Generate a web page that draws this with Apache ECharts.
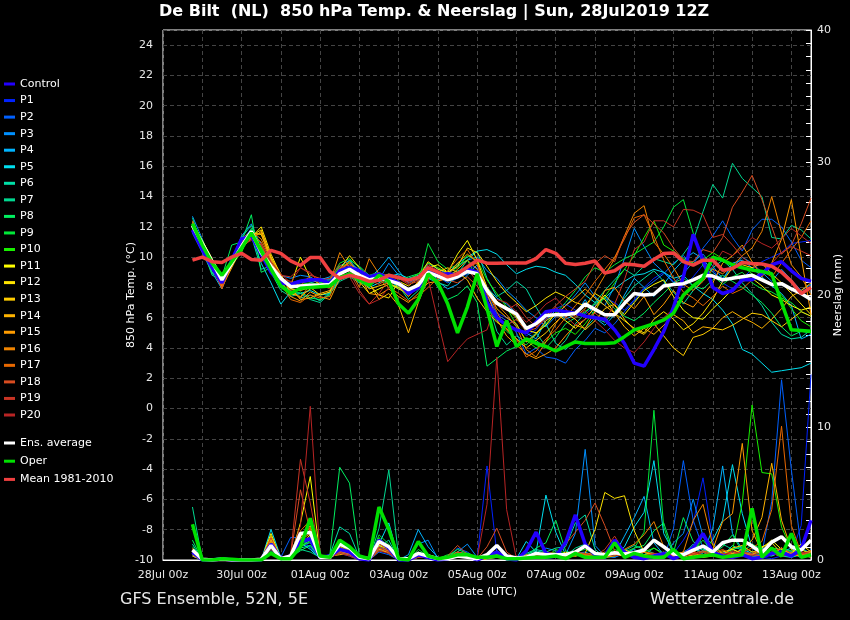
<!DOCTYPE html>
<html>
<head>
<meta charset="utf-8">
<script src="https://cdn.jsdelivr.net/npm/echarts@6/dist/echarts.min.js"></script>
<style>
  html, body { margin: 0; padding: 0; background: #000; }
  #chart { width: 850px; height: 620px; }
</style>
</head>
<body>
<div id="chart"></div>
<script>
// forecast hours since 28Jul 00z (run 28Jul2019 12Z, 6-hourly)
const hours = [18,24,30,36,42,48,54,60, 66,72,78,84,90,96,102,108,
  114,120,126,132,138,144,150,156, 162,168,174,180,186,192,198,204,
  210,216,222,228,234,240,246,252, 258,264,270,276,282,288,294,300,
  306,312,318,324,330,336,342,348, 354,360,366,372,378,384,390,396];

const dayLabels = ['28Jul 00z','30Jul 00z','01Aug 00z','03Aug 00z','05Aug 00z',
  '07Aug 00z','09Aug 00z','11Aug 00z','13Aug 00z'];

const memberNames = ['Control','P1','P2','P3','P4','P5','P6','P7','P8','P9','P10',
  'P11','P12','P13','P14','P15','P16','P17','P18','P19','P20'];
const memberColors = ['#2200ff','#0022ff','#0060ff','#0090ff','#00b4ff','#00e0f0',
  '#00e0a8','#00d890','#00f060','#00e838','#18f000','#ffff00','#ffe400','#ffcc00',
  '#ffb400','#ff9c00','#f08400','#e86800','#d84c20','#c83424','#b82424'];

// 850 hPa temperature (°C)
const tempControl = [11.8,10.5,9.3,8.3,9.8,11.2,11.4,10.2, 9.0,8.3,8.2,8.4,8.5,8.5,8.3,9.1,
  9.3,9.1,8.7,8.9,8.6,8.3,7.6,8.0, 9.0,8.8,8.9,8.8,9.2,9.0,7.0,6.0,
  5.5,5.2,5.0,5.7,6.4,6.5,6.4,6.3, 6.1,6.0,5.9,5.2,4.3,3.0,2.8,3.9,
  5.1,6.7,8.7,11.5,9.8,8.0,7.6,7.8, 8.5,8.5,8.9,9.5,9.7,9.1,8.6,8.4];
const tempP1 = [11.7,10.6,9.4,8.2,9.7,11.0,11.9,10.0, 9.2,8.4,8.3,8.5,8.6,8.4,8.3,9.0,
  9.5,9.0,8.6,8.8,8.5,8.0,7.5,8.0, 9.1,8.9,8.6,9.0,9.4,9.3,7.4,6.3,
  6.0,5.5,4.8,5.2,6.0,6.6,6.9,6.5, 6.2,6.8,7.3,7.0,6.5,7.2,8.0,8.6,
  9.0,8.4,8.0,8.7,9.5,9.2,8.3,7.9, 8.6,9.2,9.7,10.0,10.3,10.9,11.0,11.1];
const tempP2 = [11.9,10.8,9.5,8.0,9.5,10.9,11.6,10.5, 9.3,8.5,8.2,8.3,8.4,8.6,8.5,9.3,
  9.6,9.2,8.4,8.9,8.7,8.3,7.9,8.2, 9.2,8.7,8.3,8.6,8.9,9.0,7.6,6.2,
  5.8,5.0,3.6,4.0,3.4,3.3,3.0,3.9, 4.5,5.3,5.0,5.6,6.4,7.1,7.9,8.4,
  8.9,9.6,10.1,9.5,10.6,11.4,12.4,11.3, 10.4,11.8,12.5,12.5,12.0,11.0,9.8,9.3];
const tempP3 = [12.7,11.2,9.6,8.3,9.8,11.4,12.2,10.6, 9.6,8.8,8.6,8.8,8.7,8.3,8.0,8.7,
  9.4,8.6,8.1,8.5,9.6,8.8,8.3,8.5, 9.6,9.2,8.9,9.4,9.8,10.0,9.1,8.6,
  7.8,7.2,6.5,6.0,5.4,6.1,6.8,7.5, 8.3,7.4,6.8,8.1,9.9,11.9,10.7,9.6,
  9.0,8.3,8.9,9.7,10.2,9.4,8.6,9.3, 10.0,9.6,9.0,8.4,9.2,8.5,7.8,8.2];
const tempP4 = [11.6,10.3,9.0,7.9,9.6,11.1,11.8,10.9, 9.8,8.3,7.6,7.9,8.3,8.5,8.7,9.4,
  9.8,9.0,8.6,9.2,10.0,9.1,8.3,8.6, 9.4,8.4,7.9,8.2,8.8,9.5,8.0,7.3,
  6.9,6.3,5.0,4.6,5.8,6.5,5.9,6.2, 7.2,6.0,5.5,6.2,7.5,8.6,8.0,7.4,
  8.2,9.1,9.8,10.3,9.9,9.0,8.5,9.6, 9.8,9.3,8.7,8.1,7.6,6.8,4.6,4.9];
const tempP5 = [12.3,11.0,9.3,8.6,9.9,11.3,11.5,9.6, 8.3,6.9,7.7,7.6,7.8,7.5,7.6,8.5,
  8.8,8.4,8.0,8.3,8.7,8.9,8.6,8.8, 9.3,9.0,8.9,9.6,10.0,10.4,10.5,10.2,
  9.5,8.9,9.2,9.4,9.3,9.0,8.8,8.2, 7.5,7.0,7.3,7.9,8.4,8.8,8.9,9.2,
  9.0,8.6,8.8,8.1,7.6,7.2,6.5,5.6, 3.9,3.6,3.0,2.4,2.5,2.6,2.7,3.0];
const tempP6 = [12.2,10.5,9.0,8.4,9.9,11.2,11.4,9.2, 9.4,8.2,7.8,7.3,7.5,7.1,7.7,8.6,
  9.0,8.6,8.3,8.7,8.4,8.1,7.2,7.8, 8.6,8.3,8.1,8.9,9.8,10.4,8.6,7.4,
  7.8,8.4,7.9,6.7,5.6,4.3,3.9,4.5, 5.3,6.0,5.7,6.4,7.3,8.1,8.6,9.1,
  8.4,7.7,6.9,7.8,8.5,9.3,9.8,9.2, 8.3,7.6,6.8,5.7,4.9,4.6,4.7,5.2];
const tempP7 = [12.6,10.6,8.8,8.5,9.8,11.3,12.1,10.4, 9.0,7.8,7.4,7.6,7.2,7.0,7.6,8.4,
  8.7,8.3,8.6,8.9,8.2,7.9,7.7,8.2, 8.6,8.5,8.8,9.1,9.3,8.8,7.2,5.1,
  4.2,4.8,4.4,5.0,4.1,3.8,4.5,5.6, 6.3,7.0,7.8,8.5,9.2,8.8,9.4,9.9,
  9.7,9.5,10.2,11.1,13.0,14.8,13.9,16.2, 15.2,14.6,14.0,11.3,11.2,12.1,11.8,11.2];
const tempP8 = [12.0,10.7,8.9,8.7,10.8,11.0,12.8,9.0, 9.3,8.0,7.5,7.7,7.3,7.2,7.5,8.9,
  9.8,9.4,8.8,8.6,8.9,8.5,8.7,8.9, 9.1,8.0,7.2,7.5,8.1,7.0,2.8,3.3,
  3.8,4.1,4.6,4.5,4.0,4.7,5.6,6.0, 6.4,6.9,7.3,6.6,6.1,5.8,6.3,7.0,
  7.6,8.3,8.6,8.1,7.9,8.5,8.8,8.4, 8.0,7.5,7.0,6.3,5.4,4.8,5.1,5.0];
const tempP9 = [12.1,11.0,9.8,8.6,9.4,10.4,11.5,10.6, 9.4,8.7,8.2,8.0,8.1,8.3,8.5,9.6,
  9.9,9.3,8.7,8.4,8.3,8.0,7.4,8.3, 10.9,9.7,9.2,9.5,9.8,8.6,6.6,5.8,
  5.1,4.6,4.2,4.9,5.6,6.3,7.0,7.8, 8.7,9.3,9.0,9.5,9.9,10.2,10.6,11.0,
  12.0,13.3,13.8,11.6,9.4,8.8,8.2,8.7, 9.0,8.3,7.9,7.7,7.3,7.0,6.4,6.1];
const tempP10 = [12.3,11.1,9.9,8.8,9.5,10.3,11.9,10.7, 9.5,8.5,7.9,8.2,8.3,8.2,8.4,9.4,
  9.6,9.0,8.8,9.0,8.6,8.7,8.5,8.9, 9.6,9.3,9.0,9.3,10.1,9.8,8.5,7.6,
  6.7,5.5,4.5,4.0,4.4,5.0,5.3,4.9, 5.6,6.5,7.4,8.3,9.2,10.1,11.3,12.4,
  10.8,10.4,9.9,9.6,9.8,10.3,9.9,9.5, 9.4,8.9,8.6,8.2,7.5,6.6,5.8,5.4];
const tempP11 = [11.9,10.8,9.6,8.1,9.7,11.1,11.6,11.5, 9.9,8.4,8.1,10.0,8.6,8.2,8.4,9.0,
  9.4,8.4,7.6,7.9,8.2,8.0,7.6,8.4, 9.3,9.5,9.0,10.2,11.1,9.8,8.0,7.1,
  6.6,6.0,5.2,5.0,5.5,6.3,5.8,5.3, 5.9,6.7,7.5,6.8,6.2,7.0,7.8,8.2,
  8.5,7.4,6.5,6.0,5.9,6.6,7.2,7.9, 8.4,8.6,8.1,7.5,7.2,6.8,6.5,6.7];
const tempP12 = [12.0,10.9,9.7,8.2,9.6,10.9,11.3,12.0, 10.2,8.8,7.9,7.8,8.0,7.5,7.7,9.2,
  10.1,9.3,8.2,7.5,7.3,8.4,8.1,8.6, 9.7,9.2,9.0,9.4,10.6,10.3,9.4,8.4,
  7.6,7.0,6.4,6.8,7.3,7.7,7.4,7.0, 6.8,7.6,7.2,6.3,5.8,5.3,5.0,5.9,
  6.4,5.9,5.2,5.6,6.3,7.2,8.4,9.3, 9.5,9.3,9.6,8.9,8.3,7.6,6.9,6.2];
const tempP13 = [12.2,11.1,9.9,8.3,9.5,10.8,11.4,11.8, 10.0,8.9,7.6,7.4,7.9,8.1,8.0,8.8,
  9.3,8.7,7.9,8.1,8.3,7.9,7.6,7.9, 8.8,9.0,9.3,9.0,8.5,7.3,6.4,5.7,
  5.3,4.6,4.0,4.5,5.0,5.7,6.3,5.9, 5.2,5.8,6.6,6.9,5.9,5.2,4.9,5.6,
  4.8,4.0,3.5,4.7,4.9,5.3,5.2,5.5, 5.9,6.3,6.2,5.8,5.4,5.9,6.4,6.1];
const tempP14 = [12.1,10.7,9.4,8.0,9.3,10.6,11.2,11.7, 10.0,8.7,8.0,7.2,7.3,7.6,7.8,9.1,
  9.7,8.9,8.3,7.2,7.6,6.8,5.0,7.0, 8.6,8.9,8.6,9.2,9.8,9.2,7.9,6.6,
  6.0,5.6,4.4,4.9,5.8,6.2,6.8,7.3, 7.9,7.3,6.8,6.3,5.4,4.8,5.3,4.9,
  5.5,6.2,5.8,5.0,5.4,5.3,6.0,6.4, 6.0,5.7,5.3,5.9,6.6,7.4,7.8,8.3];
const tempP15 = [12.2,10.9,9.5,8.1,9.4,10.8,11.3,11.6, 9.7,8.5,7.4,7.1,7.7,7.4,7.2,8.6,
  9.4,8.8,7.6,7.5,7.9,7.4,7.0,7.6, 8.3,8.4,8.8,9.6,10.2,9.7,7.6,5.9,
  4.8,4.2,3.6,3.3,3.6,4.0,4.8,5.5, 5.3,6.4,7.8,8.0,7.1,6.6,7.4,6.2,
  6.9,7.8,7.0,6.7,7.5,8.3,9.6,10.1, 10.8,9.7,8.7,9.6,11.2,13.8,10.0,6.2];
const tempP16 = [12.4,11.0,9.6,8.2,9.8,11.2,11.7,11.2, 9.8,8.6,7.8,7.3,8.2,8.0,8.3,10.3,
  9.3,8.0,9.9,8.9,8.8,8.1,7.4,8.1, 8.7,8.4,8.6,8.9,9.4,9.6,7.9,6.9,
  6.2,5.4,3.9,3.4,4.4,5.6,6.5,6.1, 6.6,7.7,8.8,9.9,11.4,12.9,13.4,11.0,
  10.2,9.3,8.2,7.8,8.4,9.2,8.9,9.4, 10.1,10.6,11.7,14.0,11.6,9.5,8.7,7.5];
const tempP17 = [12.3,10.8,9.5,7.9,9.5,11.0,11.5,11.0, 9.6,8.3,7.2,7.0,7.5,7.3,7.4,9.2,
  9.7,8.7,8.3,8.5,8.0,7.6,7.1,7.4, 8.0,8.6,9.1,9.9,10.5,9.5,7.8,6.4,
  5.2,4.6,3.4,3.8,4.6,5.2,6.0,6.8, 7.5,8.4,9.2,10.0,11.2,12.6,12.8,11.4,
  9.8,8.6,7.7,7.3,6.8,7.4,8.1,7.6, 7.9,8.5,9.1,8.7,9.6,10.5,11.3,12.4];
const tempP18 = [12.1,10.6,9.2,8.0,9.6,11.1,11.4,10.8, 9.5,8.6,8.4,8.1,8.8,8.6,8.2,9.3,
  9.5,9.1,8.5,8.2,8.6,8.4,7.8,8.3, 9.2,8.8,8.5,8.3,8.7,8.1,6.9,5.9,
  5.5,5.9,5.1,5.3,6.1,6.8,7.4,7.9, 8.4,9.6,10.1,9.7,11.4,12.3,12.8,12.2,
  11.6,10.6,9.8,9.7,10.5,10.3,11.3,13.3, 14.3,15.4,13.8,12.0,10.2,10.8,12.2,13.9];
const tempP19 = [11.8,10.4,9.2,8.2,9.8,11.0,11.2,10.5, 9.1,8.8,8.7,9.3,8.9,8.5,8.6,9.5,
  9.0,7.8,6.9,7.6,8.5,8.6,8.2,8.4, 9.5,9.1,8.8,9.0,9.2,8.4,7.5,7.0,
  6.5,6.9,6.0,5.4,5.9,6.7,6.1,5.5, 5.9,6.3,5.8,6.9,8.5,10.5,11.0,12.4,
  12.4,12.0,13.15,13.1,12.8,11.3,11.5,10.8, 10.0,9.5,9.0,9.6,10.3,10.7,10.4,10.1];
const tempP20 = [12.0,10.7,9.5,8.4,9.7,10.8,11.1,10.9, 9.7,8.9,8.3,9.3,9.0,8.2,7.9,8.9,
  8.7,7.6,6.9,7.2,8.0,8.6,8.3,8.5, 8.6,5.8,3.1,3.9,4.6,4.9,5.2,7.2,
  7.0,6.4,5.7,6.2,6.9,7.3,6.6,6.0, 6.5,5.8,5.2,4.5,4.0,3.7,4.4,5.3,
  6.0,6.6,7.3,8.1,8.7,9.4,10.4,10.1, 10.6,11.3,10.9,10.6,11.2,11.9,11.4,10.9];
const tempEnsAvg = [12.1,10.9,9.7,8.5,9.6,10.7,11.7,10.3, 9.4,8.6,8.05,8.1,8.15,8.15,8.2,8.9,
  9.2,8.8,8.5,8.65,8.45,8.25,7.85,8.15, 9.0,8.75,8.5,8.7,9.05,8.9,7.8,6.95,
  6.6,6.25,5.3,5.6,6.15,6.2,6.2,6.3, 6.9,6.55,6.2,6.2,6.95,7.6,7.5,7.55,
  8.1,8.2,8.25,8.5,8.8,8.75,8.5,8.6, 8.7,8.8,8.5,8.2,8.25,7.9,7.6,7.2];
const tempOper = [12.2,10.8,9.6,8.8,9.7,10.6,11.6,10.4, 9.2,8.1,7.6,7.95,8.0,8.05,8.1,8.65,
  8.9,8.5,8.15,8.8,8.4,6.9,6.3,7.2, 8.9,8.3,6.9,5.0,6.7,8.9,6.6,4.1,
  5.8,4.1,4.6,4.3,4.1,3.8,4.1,4.4, 4.3,4.3,4.3,4.35,4.75,5.2,5.4,5.6,
  5.85,6.3,7.5,8.1,8.6,10.0,9.8,9.5, 9.3,9.15,9.05,8.9,7.0,5.2,5.15,5.1];
const tempMean = [9.8,10.0,9.7,9.65,10.0,10.25,9.85,9.8, 10.45,10.25,9.75,9.45,9.97,9.97,9.05,8.6,
  8.8,8.65,8.4,8.48,8.8,8.66,8.48,8.66, 9.3,9.0,8.7,8.9,9.35,9.8,9.6,9.6,
  9.62,9.62,9.62,9.9,10.5,10.25,9.6,9.52, 9.6,9.74,8.95,9.1,9.55,9.5,9.4,9.85,
  10.24,10.28,9.7,9.47,9.8,9.8,9.14,9.25, 9.65,9.58,9.55,9.4,9.0,8.4,7.6,8.0];

// 6-hourly precipitation (mm)
const rainControl = [0.6,0,0,0.1,0,0,0,0, 1.2,0.1,0.3,1.4,1.6,0.2,0.3,0.8,
  0.6,0.1,0,1.5,0.9,0,0,0.4, 0.2,0,0.1,0.4,0.3,0,0.3,0.6,
  0.1,0,0.7,2.1,0.5,0.3,1.3,3.4, 1.2,0.4,0.3,1.5,0.6,0.2,0.1,0.3,
  0.5,0.1,0.4,0.9,2.0,0.6,0.3,0.2, 0.4,0.1,0.2,0.5,0.6,0.3,0.8,3.0];
const rainP1 = [0.5,0,0,0,0,0,0,0, 0.8,0,0.2,1.2,1.0,0.1,0.2,0.6,
  0.4,0,0,0.8,0.5,0,0,0.3, 0.1,0,0.2,0.5,0.3,0.1,7.1,0.5,
  0.1,0,0.2,0.3,0.1,0.2,0.4,0.6, 0.3,0.2,0.1,0.5,0.4,0.3,0.2,0.4,
  0.2,0.5,1.5,2.8,6.2,1.4,0.3,0.5, 0.7,0.4,0.2,0.1,0.3,0.5,2.6,14.0];
const rainP2 = [0.4,0,0,0.1,0,0,0,0, 0.6,0.2,1.7,1.7,0.9,0.2,0.3,0.5,
  0.3,0,0,0.6,0.4,0,0,0.2, 0.3,0.1,0.1,0.9,0.6,0.1,0.2,0.3,
  0.1,0,0.3,0.1,0.5,0.2,0.1,0.4, 0.2,0.1,0.3,0.2,0.6,0.4,0.3,0.2,
  0.1,2.4,7.5,3.0,0.9,0.4,0.2,0.6, 0.3,0.2,0.5,4.4,13.6,6.8,0.9,0.5];
const rainP3 = [0.3,0,0,0,0,0,0,0, 0.9,0.1,0.2,1.1,1.3,0.1,0.2,0.7,
  0.5,0.1,0,0.9,0.7,0,0,1.2, 1.5,0.1,0.1,0.6,1.2,0.2,0.3,0.6,
  0.1,0.1,0.2,0.5,0.9,0.7,0.4,2.0, 8.35,1.1,0.3,0.2,0.5,0.8,0.4,0.3,
  0.2,1.3,2.0,4.6,1.8,0.3,0.5,0.8, 1.0,0.4,0.2,0.4,0.9,0.6,0.2,0.8];
const rainP4 = [0.5,0,0,0,0,0,0,0, 1.4,0.1,0.1,1.0,1.5,0.2,0.3,0.9,
  0.7,0.2,0,1.1,0.6,0,0.4,2.3, 1.0,0.2,0.1,0.3,0.2,0,0.1,0.4,
  0.2,0,0.3,0.6,0.2,0.4,0.3,0.5, 0.6,0.3,0.2,0.4,1.8,3.2,4.8,1.3,
  0.4,0.3,0.6,1.0,0.5,2.4,7.1,2.0, 0.8,0.5,0.3,0.6,0.4,0.2,0.5,0.3];
const rainP5 = [0.7,0,0,0,0,0,0,0, 2.3,0.2,0.1,1.3,0.8,0.1,0.2,0.6,
  0.4,0.1,0,1.2,2.8,0.1,0,0.6, 0.3,0.1,0.2,0.4,0.5,0,0.2,0.7,
  0.2,0.1,1.4,0.6,4.9,2.1,0.4,0.6, 0.3,0.2,0.4,0.3,1.0,2.5,3.6,7.5,
  2.0,0.6,0.4,1.2,0.7,1.5,3.0,7.2, 3.5,0.9,0.4,0.3,0.6,0.9,0.4,0.2];
const rainP6 = [1.2,0,0,0,0,0,0,0, 1.5,0.1,0.2,0.9,1.1,0.2,0.4,2.5,
  2.0,0.2,0,1.0,1.5,0,0,0.5, 0.3,0,0.1,0.6,0.4,0.1,0.2,0.3,
  0.1,0,0.5,0.8,0.6,0.9,1.0,2.8, 3.4,0.8,0.2,0.3,0.5,0.6,0.4,0.9,
  0.5,0.3,0.2,0.8,0.6,0.4,0.3,1.1, 0.7,0.4,0.9,0.5,0.3,0.2,0.4,0.6];
const rainP7 = [4.0,0,0,0,0,0,0,0, 0.9,0.1,0.1,0.8,0.6,0.2,0.3,1.2,
  0.8,0.1,0,2.4,6.8,0.2,0,0.4, 0.2,0,0.1,0.3,0.2,0,0.1,0.2,
  0.3,0.1,0.4,0.7,0.5,0.6,0.3,0.9, 1.2,0.6,0.3,0.4,0.7,1.1,0.8,0.5,
  0.3,0.2,0.6,0.9,0.4,0.7,1.2,0.8, 0.5,0.3,0.2,0.4,0.7,0.5,0.2,0.4];
const rainP8 = [1.5,0,0,0,0,0,0,0, 1.3,0.1,0.2,0.7,1.1,0.1,0.4,7.0,
  5.8,0.3,0,1.6,1.1,0.1,0,0.5, 0.4,0.1,0.3,0.8,0.5,0.2,0.4,0.5,
  0.2,0.1,0.3,0.9,1.3,3.0,0.7,0.4, 0.5,0.3,0.2,0.6,0.4,0.9,1.1,2.2,
  2.8,0.6,3.2,1.4,0.8,0.5,1.0,1.9, 0.6,1.2,0.8,0.5,0.3,0.6,0.9,0.4];
const rainP9 = [1.0,0,0,0.1,0,0,0,0, 0.7,0.1,0.3,0.9,1.8,0.2,0.3,1.4,
  0.9,0.2,0,1.9,1.2,0,0,0.8, 0.3,0.1,0.4,0.6,0.5,0.1,0.2,0.4,
  0.1,0,0.2,0.4,0.6,0.5,0.3,0.6, 0.8,0.4,0.2,0.3,0.6,0.9,2.1,11.3,
  2.5,0.3,0.5,0.7,1.5,0.6,0.4,0.8, 1.0,0.6,0.4,0.9,0.8,0.7,0.3,0.5];
const rainP10 = [0.8,0,0,0,0,0,0,0, 0.9,0.2,0.1,1.0,1.4,0.2,0.2,1.1,
  0.7,0.1,0,1.7,0.9,0,0,0.6, 0.2,0.1,0.2,0.5,0.4,0.1,0.3,0.5,
  0.2,0.1,0.3,0.4,0.2,0.8,0.5,0.3, 0.4,0.2,0.3,0.8,0.5,0.4,0.6,0.9,
  0.4,0.3,0.5,0.6,1.8,1.2,0.4,0.7, 4.3,11.7,6.6,6.5,2.5,0.8,0.4,0.3];
const rainP11 = [0.6,0,0,0,0,0,0,0, 2.0,0.1,0.2,2.8,6.3,0.3,0.3,0.7,
  0.5,0.1,0,1.1,0.8,0,0,0.3, 0.2,0,0.1,0.3,0.4,0,0.2,0.3,
  0.1,0,0.2,0.3,0.6,0.4,0.2,0.5, 0.3,0.2,0.4,0.6,0.3,0.5,0.2,0.4,
  0.6,0.3,0.5,0.4,0.2,0.3,0.6,0.8, 0.5,0.4,0.9,1.5,0.8,0.5,1.2,0.6];
const rainP12 = [0.5,0,0,0,0,0,0,0, 1.8,0.1,0.1,1.6,2.6,0.2,0.2,0.5,
  0.6,0,0,0.9,0.5,0,0,0.4, 0.3,0.1,0.1,0.4,0.2,0,0.1,0.4,
  0.1,0,0.2,0.4,0.3,0.2,0.6,0.3, 0.5,2.3,5.1,4.65,4.85,2.2,0.6,0.4,
  0.3,0.2,0.5,0.3,0.4,0.6,0.3,0.5, 0.6,0.4,1.0,1.3,0.5,0.3,0.8,0.4];
const rainP13 = [0.4,0,0,0,0,0,0,0, 1.5,0.1,0.2,1.2,1.9,0.2,0.3,0.4,
  0.5,0,0,0.7,0.6,0,0,0.2, 0.2,0,0.1,0.5,0.3,0,0.1,0.2,
  0.1,0,0.3,0.2,0.4,0.3,0.2,0.6, 0.4,0.3,0.2,0.5,0.8,0.4,0.6,0.3,
  0.5,0.2,0.4,0.7,0.3,0.5,0.4,0.9, 1.1,0.6,0.8,0.4,0.9,0.3,0.5,0.7];
const rainP14 = [0.3,0,0,0,0,0,0,0, 1.6,0.1,0.1,1.8,2.2,0.2,0.2,0.6,
  0.4,0.1,0,0.8,0.7,0,0,0.3, 0.2,0,0.1,0.4,0.3,0,0.2,0.3,
  0.1,0,0.4,0.3,0.5,0.2,0.3,0.4, 0.3,0.2,0.5,0.4,0.3,0.6,0.4,0.5,
  0.3,0.4,0.6,0.5,0.3,0.4,0.7,0.5, 0.8,1.5,3.2,7.3,3.0,0.8,0.4,0.6];
const rainP15 = [0.6,0,0,0,0,0,0,0, 1.2,0.1,0.2,1.5,2.0,0.3,0.2,0.9,
  0.6,0.1,0,1.3,0.9,0,0,0.4, 0.3,0.1,0.2,0.6,0.4,0.1,0.2,0.3,
  0.2,0.1,0.3,0.4,0.2,0.3,0.4,0.5, 0.3,0.4,0.2,0.3,0.6,0.5,0.3,0.4,
  0.5,0.3,0.2,0.4,0.6,0.8,2.9,3.5, 8.8,2.2,0.6,0.5,0.9,0.4,0.3,0.5];
const rainP16 = [0.7,0,0,0,0,0,0,0, 1.4,0.2,0.1,1.9,2.4,0.2,0.3,1.0,
  0.7,0.1,0,1.4,1.0,0,0,0.3, 0.2,0,0.1,0.5,0.3,0,0.1,0.4,
  0.1,0,0.2,0.5,0.3,0.4,0.2,0.3, 0.5,0.3,0.6,0.4,0.8,1.2,1.9,2.9,
  1.0,0.4,0.6,3.0,4.2,1.1,0.5,0.3, 0.6,0.4,0.7,0.5,0.3,0.6,0.4,0.2];
const rainP17 = [0.9,0,0,0,0,0,0,0, 1.1,0.1,0.2,2.2,3.0,0.2,0.3,0.8,
  0.5,0.1,0,1.2,0.8,0,0,0.3, 0.3,0,0.2,0.4,0.2,0.1,0.3,0.5,
  0.2,0.1,0.3,0.2,0.4,0.3,0.2,0.5, 0.4,0.6,0.3,0.5,0.7,0.4,0.6,0.5,
  0.3,0.5,0.4,0.6,0.3,0.5,0.8,0.4, 0.6,0.9,1.4,3.8,10.1,2.6,0.5,0.3];
const rainP18 = [0.8,0,0,0,0,0,0,0, 1.7,0.1,0.3,5.3,2.1,0.2,0.3,0.7,
  0.6,0.1,0,1.0,0.7,0,0,0.4, 0.3,0.1,0.3,1.1,0.4,0.1,1.0,2.4,
  0.6,0.1,0.3,0.4,0.6,0.5,1.2,2.1, 3.0,4.3,2.6,0.7,0.4,0.6,0.3,0.5,
  0.4,0.6,0.3,0.5,0.7,0.4,0.3,0.6, 0.5,0.4,0.3,0.6,0.9,0.5,0.4,0.7];
const rainP19 = [0.7,0,0,0,0,0,0,0, 1.0,0.2,0.4,7.6,4.3,0.3,0.2,0.6,
  0.4,0.1,0,0.9,0.6,0,0,0.3, 0.2,0,0.1,0.6,0.4,0,0.2,0.5,
  0.1,0,0.2,0.3,0.5,0.4,0.3,0.6, 0.5,0.3,0.8,1.8,0.6,0.4,0.3,0.5,
  0.4,0.3,0.5,0.4,0.6,0.3,0.5,0.4, 0.6,0.5,0.8,0.4,0.6,0.3,0.5,0.4];
const rainP20 = [0.5,0,0,0,0,0,0,0, 0.8,0.1,0.3,2.6,11.6,0.4,0.2,0.5,
  0.3,0,0,0.7,0.5,0,0,0.2, 0.2,0,0.1,0.4,0.3,0.1,4.2,15.3,
  3.8,0.1,0.2,0.3,0.4,0.2,0.3,0.4, 0.3,0.2,0.4,0.3,0.5,0.4,0.3,0.2,
  0.5,0.4,0.3,0.6,0.4,0.5,0.3,0.7, 0.4,0.3,0.6,0.5,0.3,0.4,0.6,0.5];
const rainEnsAvg = [0.75,0.05,0,0.05,0,0,0,0.05, 1.1,0.1,0.3,2.0,2.1,0.2,0.2,1.2,
  0.9,0.2,0.1,1.4,1.0,0.1,0.1,0.5, 0.3,0.1,0.1,0.3,0.2,0.1,0.4,1.1,
  0.3,0.15,0.2,0.5,0.4,0.4,0.4,0.6, 1.05,0.5,0.4,0.55,0.45,0.55,0.75,1.5,
  1.0,0.45,0.4,0.75,1.05,0.6,1.3,1.5, 1.5,1.05,0.55,1.35,1.75,1.0,0.75,1.5];
const rainOper = [2.7,0,0,0.1,0.05,0,0,0, 0.5,0.1,0.1,1.0,3.15,0.3,0.2,1.5,
  1.0,0.3,0.1,4.0,2.3,0.1,0,1.4, 0.3,0.1,0.2,0.4,0.4,0.2,0.2,0.3,
  0.1,0.1,0.15,0.2,0.2,0.3,0.1,0.5, 0.2,0.2,0.2,1.3,0.2,0.5,0.3,0.2,
  0.2,0.8,0.1,0.2,0.3,0.4,0.2,0.3, 0.4,3.9,0.2,0.9,0.3,2.0,0.2,0.4];

const memberTemps = [tempControl,tempP1,tempP2,tempP3,tempP4,tempP5,tempP6,tempP7,tempP8,
  tempP9,tempP10,tempP11,tempP12,tempP13,tempP14,tempP15,tempP16,tempP17,tempP18,tempP19,tempP20];
const memberRains = [rainControl,rainP1,rainP2,rainP3,rainP4,rainP5,rainP6,rainP7,rainP8,
  rainP9,rainP10,rainP11,rainP12,rainP13,rainP14,rainP15,rainP16,rainP17,rainP18,rainP19,rainP20];

const FONT = 'DejaVu Sans';
const pairs = vals => vals.map((v, i) => [hours[i], v]);

function lineSeries(name, color, vals, axis, width) {
  return {
    name: name, type: 'line', yAxisIndex: axis, data: pairs(vals),
    symbol: 'none', silent: true,
    lineStyle: { color: color, width: width },
    itemStyle: { color: color }
  };
}

const series = [];
// perturbed members first (thin), control on top of them (thick)
for (let m = 1; m < memberNames.length; m++) {
  series.push(lineSeries(memberNames[m], memberColors[m], memberTemps[m], 0, 1));
  series.push(lineSeries(memberNames[m], memberColors[m], memberRains[m], 1, 1));
}
series.push(lineSeries('Control', memberColors[0], tempControl, 0, 3.5));
series.push(lineSeries('Control', memberColors[0], rainControl, 1, 3.5));
series.push(lineSeries('Ens. average', '#ffffff', tempEnsAvg, 0, 3.5));
series.push(lineSeries('Ens. average', '#ffffff', rainEnsAvg, 1, 3.5));
series.push(lineSeries('Oper', '#00e000', tempOper, 0, 3.5));
series.push(lineSeries('Oper', '#00e000', rainOper, 1, 3.5));
series.push(lineSeries('Mean 1981-2010', '#f04040', tempMean, 0, 3.5));

const legendText = { color: '#ffffff', fontSize: 11, fontFamily: FONT, lineHeight: 14 };
const gridLine = { show: true, lineStyle: { color: '#444444', type: [4, 3], width: 1 } };
const labelStyle = { color: '#e8e8e8', fontSize: 11, fontFamily: FONT };
const nameStyle = { color: '#ffffff', fontSize: 11, fontFamily: FONT };

const chart = echarts.init(document.getElementById('chart'), null, { renderer: 'canvas' });
chart.setOption({
  backgroundColor: '#000000',
  animation: false,
  title: {
    text: 'De Bilt  (NL)  850 hPa Temp. & Neerslag | Sun, 28Jul2019 12Z',
    left: 159, top: 4, padding: 0,
    textStyle: { color: '#ffffff', fontSize: 16, fontWeight: 'bold', fontFamily: FONT }
  },
  legend: [{
    orient: 'vertical', left: 4, top: 77, padding: 0,
    itemWidth: 11, itemHeight: 3, itemGap: 2.55, icon: 'rect',
    selectedMode: false, textStyle: legendText,
    data: memberNames
  }, {
    orient: 'vertical', left: 4, top: 436, padding: 0,
    itemWidth: 11, itemHeight: 3, itemGap: 4.2, icon: 'rect',
    selectedMode: false, textStyle: legendText,
    data: ['Ens. average', 'Oper', 'Mean 1981-2010']
  }],
  grid: {
    left: 163, right: 39, top: 30, bottom: 60,
    outerBoundsMode: 'none',
    show: true, borderColor: '#ffffff', borderWidth: 1, backgroundColor: 'transparent'
  },
  xAxis: {
    type: 'value', min: 0, max: 396, interval: 24,
    name: 'Date (UTC)', nameLocation: 'middle', nameGap: 27, nameMoveOverlap: false,
    nameTextStyle: nameStyle,
    axisLine: { show: true, onZero: false, lineStyle: { color: '#ffffff' } },
    axisTick: { show: false },
    axisLabel: Object.assign({
      margin: 10,
      formatter: v => (v % 48 === 0 ? dayLabels[v / 48] : '')
    }, labelStyle),
    splitLine: gridLine
  },
  yAxis: [{
    type: 'value', min: -10, max: 25, interval: 2, position: 'left',
    name: '850 hPa Temp. (°C)', nameLocation: 'middle', nameGap: 26, nameRotate: 90,
    nameMoveOverlap: false, nameTextStyle: nameStyle,
    axisLine: { show: false, onZero: false }, axisTick: { show: false },
    axisLabel: Object.assign({
      margin: 10,
      formatter: v => (v > 24 ? '' : String(v))
    }, labelStyle),
    splitLine: gridLine
  }, {
    type: 'value', min: 0, max: 40, interval: 1, position: 'right',
    name: 'Neerslag (mm)', nameLocation: 'middle', nameGap: 22, nameRotate: 90,
    nameMoveOverlap: false, nameTextStyle: nameStyle,
    axisLine: { show: true, onZero: false, lineStyle: { color: '#ffffff' } },
    axisTick: { show: true, inside: true, length: 5, lineStyle: { color: '#ffffff' } },
    axisLabel: Object.assign({
      margin: 6,
      formatter: v => (v % 10 === 0 ? String(v) : '')
    }, labelStyle),
    splitLine: { show: false }
  }],
  graphic: [{
    type: 'text', left: 120, top: 592,
    style: { text: 'GFS Ensemble, 52N, 5E', fill: '#e8e8e8', fontSize: 16, fontFamily: FONT }
  }, {
    type: 'text', left: 650, top: 592,
    style: { text: 'Wetterzentrale.de', fill: '#e8e8e8', fontSize: 16, fontFamily: FONT }
  }],
  series: series
});
</script>
</body>
</html>
